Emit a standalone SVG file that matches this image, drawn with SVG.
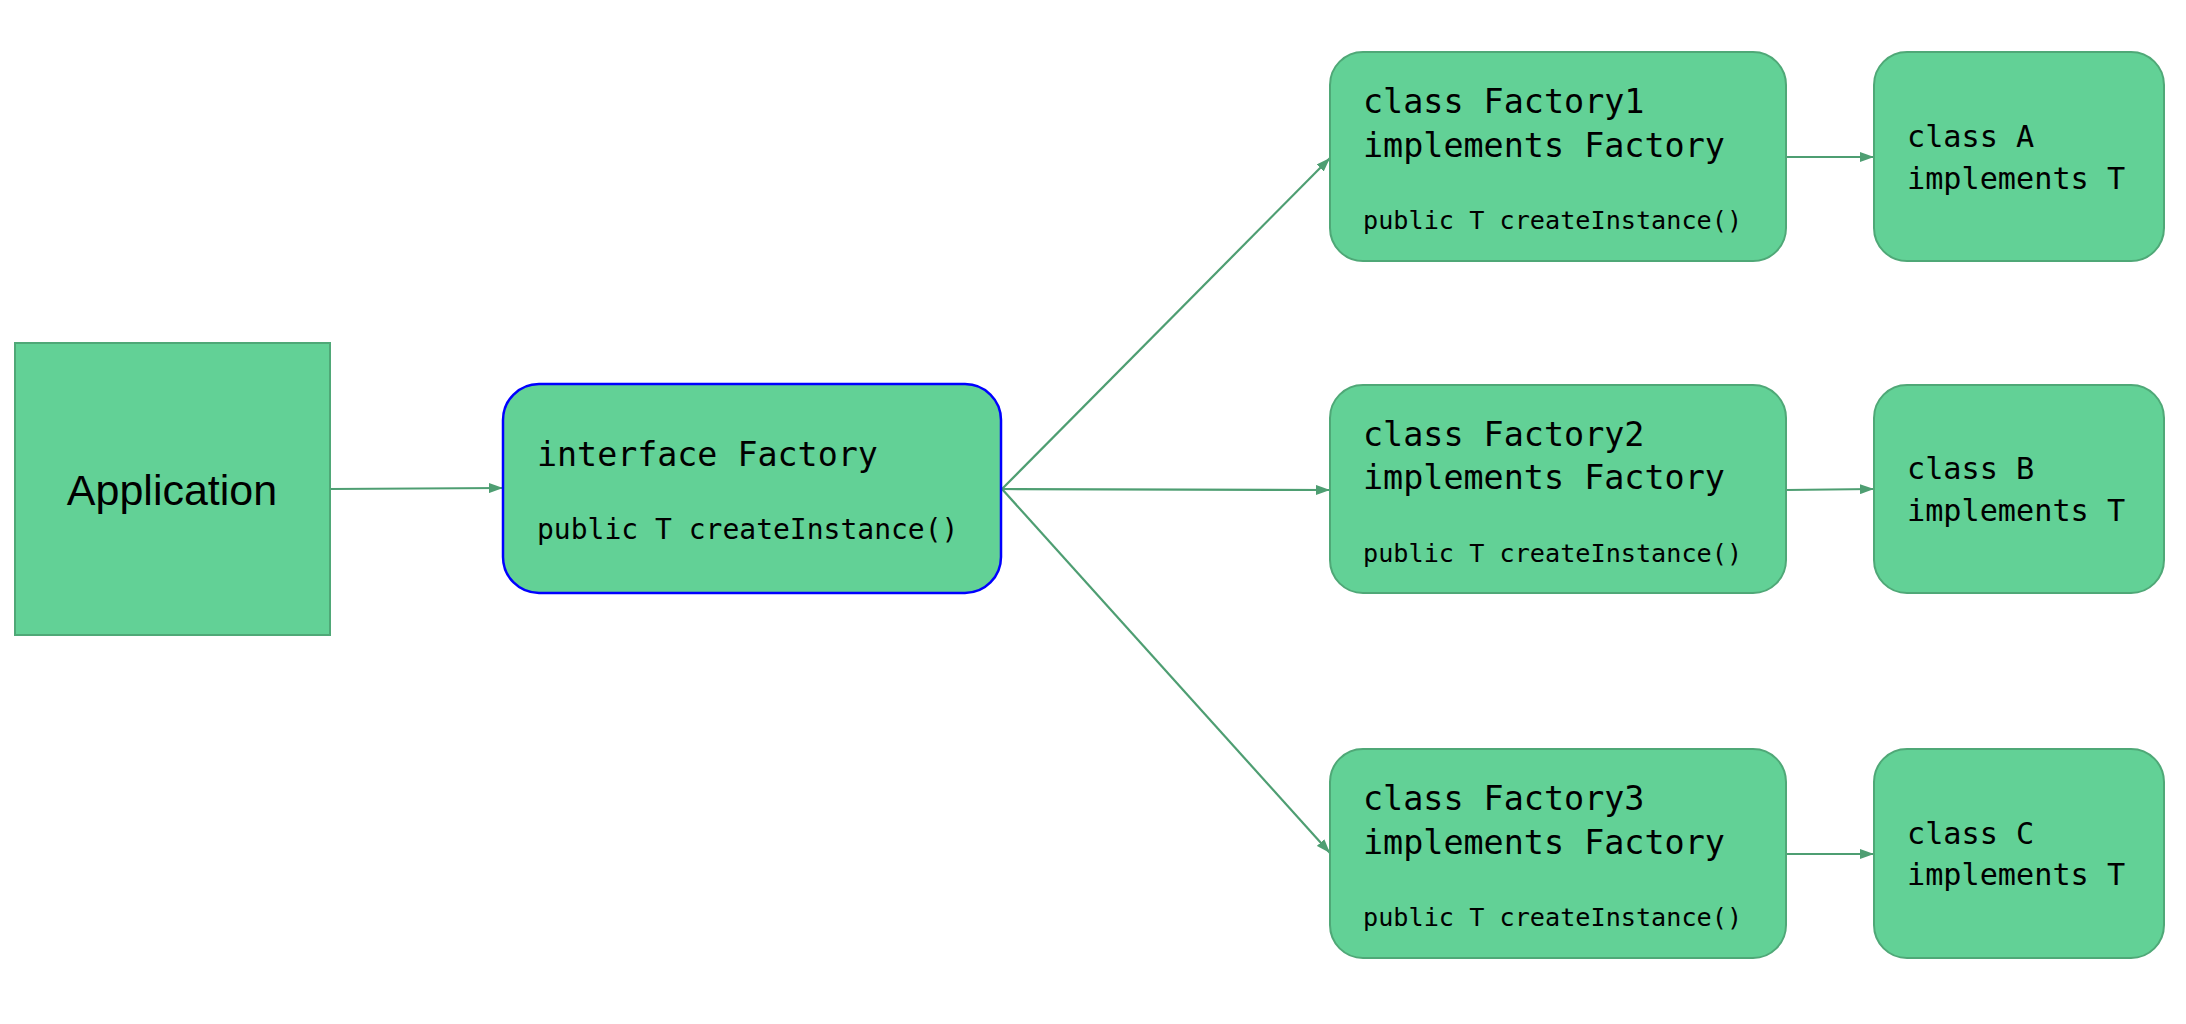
<svg xmlns="http://www.w3.org/2000/svg" width="2186" height="1024" viewBox="0 0 2186 1024">
<style>
.node{fill:#62d196;stroke:#4fa877;stroke-width:2}
.iface{fill:#62d196;stroke:#0000ff;stroke-width:2.5}
.mono{font-family:"DejaVu Sans Mono","Liberation Mono",monospace;fill:#000}
.sans{font-family:"Liberation Sans",Arial,sans-serif;fill:#000}
.edge{stroke:#4e9e72;stroke-width:2.2;fill:none;marker-end:url(#arr)}
</style>
<defs>
<marker id="arr" viewBox="0 0 14 10" refX="14" refY="5" markerWidth="14" markerHeight="10" markerUnits="userSpaceOnUse" orient="auto">
<path d="M0,0 L14,5 L0,10 z" fill="#4e9e72"/>
</marker>
</defs>
<rect width="2186" height="1024" fill="#ffffff"/>
<g id="connectors">
<line class="edge" x1="330" y1="489" x2="503" y2="488"/>
<line class="edge" x1="1002" y1="489" x2="1330" y2="158"/>
<line class="edge" x1="1002" y1="489" x2="1330" y2="490"/>
<line class="edge" x1="1002" y1="489" x2="1330" y2="853"/>
<line class="edge" x1="1786" y1="157" x2="1874" y2="157"/>
<line class="edge" x1="1786" y1="490" x2="1874" y2="489"/>
<line class="edge" x1="1786" y1="854" x2="1874" y2="854"/>
</g>
<g id="application">
<rect class="node" x="15" y="343" width="315" height="292"/>
<text class="sans" x="172" y="505" font-size="43" text-anchor="middle">Application</text>
</g>
<g id="factory-interface">
<rect class="iface" x="503" y="384" width="498" height="209" rx="36" ry="36"/>
<text class="mono" x="537" y="466" font-size="33.3">interface Factory</text>
<text class="mono" x="537" y="539" font-size="28">public T createInstance()</text>
</g>
<g id="factory1">
<rect class="node" x="1330" y="52" width="456" height="209" rx="33" ry="33"/>
<text class="mono" x="1363" y="113" font-size="33.4">class Factory1</text>
<text class="mono" x="1363" y="157" font-size="33.4">implements Factory</text>
<text class="mono" x="1363" y="229" font-size="25.2">public T createInstance()</text>
</g>
<g id="factory2">
<rect class="node" x="1330" y="385" width="456" height="208" rx="33" ry="33"/>
<text class="mono" x="1363" y="446" font-size="33.4">class Factory2</text>
<text class="mono" x="1363" y="489" font-size="33.4">implements Factory</text>
<text class="mono" x="1363" y="562" font-size="25.2">public T createInstance()</text>
</g>
<g id="factory3">
<rect class="node" x="1330" y="749" width="456" height="209" rx="33" ry="33"/>
<text class="mono" x="1363" y="810" font-size="33.4">class Factory3</text>
<text class="mono" x="1363" y="854" font-size="33.4">implements Factory</text>
<text class="mono" x="1363" y="926" font-size="25.2">public T createInstance()</text>
</g>
<g id="classA">
<rect class="node" x="1874" y="52" width="290" height="209" rx="33" ry="33"/>
<text class="mono" x="1907" y="147" font-size="30.2">class A</text>
<text class="mono" x="1907" y="189" font-size="30.2">implements T</text>
</g>
<g id="classB">
<rect class="node" x="1874" y="385" width="290" height="208" rx="33" ry="33"/>
<text class="mono" x="1907" y="479" font-size="30.2">class B</text>
<text class="mono" x="1907" y="521" font-size="30.2">implements T</text>
</g>
<g id="classC">
<rect class="node" x="1874" y="749" width="290" height="209" rx="33" ry="33"/>
<text class="mono" x="1907" y="844" font-size="30.2">class C</text>
<text class="mono" x="1907" y="885" font-size="30.2">implements T</text>
</g>
</svg>
